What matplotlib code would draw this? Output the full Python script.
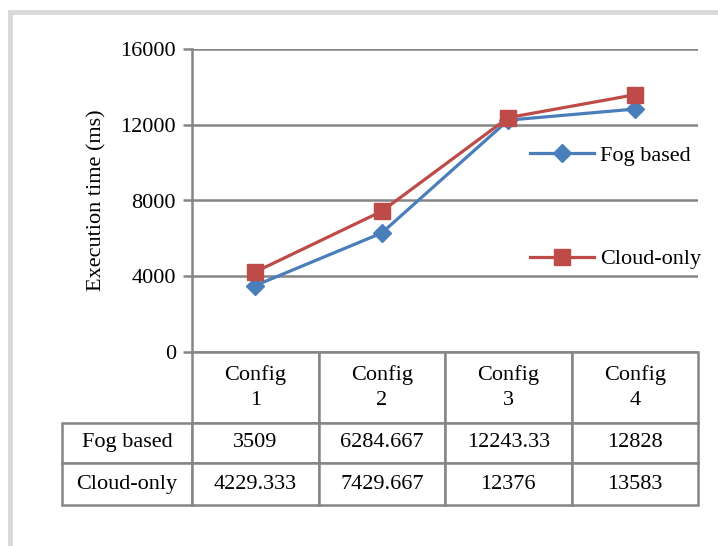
import matplotlib
matplotlib.use("Agg")
import matplotlib.pyplot as plt
from matplotlib.patches import Rectangle

plt.rcParams['font.family'] = ['Liberation Serif', 'DejaVu Serif']

# --- DATA ---
configs = ["Config\n1", "Config\n2", "Config\n3", "Config\n4"]
series_names = ["Fog based", "Cloud-only"]
fog_based = [3509, 6284.667, 12243.33, 12828]
cloud_only = [4229.333, 7429.667, 12376, 13583]
fog_labels = ["3509", "6284.667", "12243.33", "12828"]
cloud_labels = ["4229.333", "7429.667", "12376", "13583"]
y_ticks = [0, 4000, 8000, 12000, 16000]

W, H = 718, 546
FS = 16
GRID = "#858585"
BLUE = "#4a7ebb"
RED = "#be4b48"

fig = plt.figure(figsize=(W / 100, H / 100), dpi=100)

# outer light frame (cut off at right and bottom like the screenshot)
fig.patches.append(Rectangle((10 / W, -0.1), 2.0, (H - 12) / H + 0.1,
                             transform=fig.transFigure, fill=False,
                             edgecolor="#d9d9d9", linewidth=3.5))

# plot area in pixels
left, right, top, bottom = 192, 698, 49, 352
ax = fig.add_axes([left / W, (H - bottom) / H, (right - left) / W, (bottom - top) / H])

x = range(len(configs))
ax.plot(x, fog_based, color=BLUE, lw=2.3, marker="D", ms=9, mfc=BLUE, mec=BLUE,
        label=series_names[0], zorder=3)
ax.plot(x, cloud_only, color=RED, lw=2.3, marker="s", ms=11.5, mfc=RED, mec=RED,
        label=series_names[1], zorder=4)

ax.set_xlim(-0.5, len(configs) - 0.5)
ax.set_ylim(0, 16000)
ax.set_yticks(y_ticks)
ax.set_yticklabels([str(t) for t in y_ticks], fontsize=FS)
ax.set_xticks([])
ax.yaxis.grid(True, color=GRID, lw=1.8)
ax.set_axisbelow(True)
for side in ["top", "right", "bottom"]:
    ax.spines[side].set_visible(False)
ax.spines["left"].set_color(GRID)
ax.spines["left"].set_linewidth(1.8)
ax.tick_params(axis="y", length=6.5, width=1.8, color=GRID, pad=5)
ax.set_ylabel("Execution time (ms)", fontsize=FS, labelpad=10)

# --- data table under the plot ---
cell_text = [[""] + configs,
             [series_names[0]] + fog_labels,
             [series_names[1]] + cloud_labels]
col_w = (right - left) / len(configs)
label_w = left - 62
widths = [label_w] + [col_w] * len(configs)
tbl_h = 505 - bottom
tbl = ax.table(cellText=cell_text, cellLoc="center",
               colWidths=[w / (right - left) for w in widths],
               bbox=[(62 - left) / (right - left), -tbl_h / (bottom - top),
                     (698 - 62) / (right - left), tbl_h / (bottom - top)])
tbl.auto_set_font_size(False)
tbl.set_fontsize(FS)
row_h = [71, 41, 42]
for (r, c), cell in tbl.get_celld().items():
    cell.set_height(row_h[r])
    cell.set_edgecolor(GRID)
    cell.set_linewidth(1.8)
    cell.set_facecolor("white")
    cell.get_text().set_linespacing(1.4)
    if r == 0 and c == 0:
        cell.visible_edges = ""
    if c == 0 and r > 0:
        cell._loc = "left"
        cell.PAD = 0.06

leg = ax.legend(loc="upper left", bbox_to_anchor=(530 / W, (H - 145) / H),
                bbox_transform=fig.transFigure, frameon=False, fontsize=FS,
                handlelength=2.9, handletextpad=0.25, labelspacing=3.75,
                borderpad=0, borderaxespad=0)

fig.savefig("out.png", dpi=100, facecolor="white")
